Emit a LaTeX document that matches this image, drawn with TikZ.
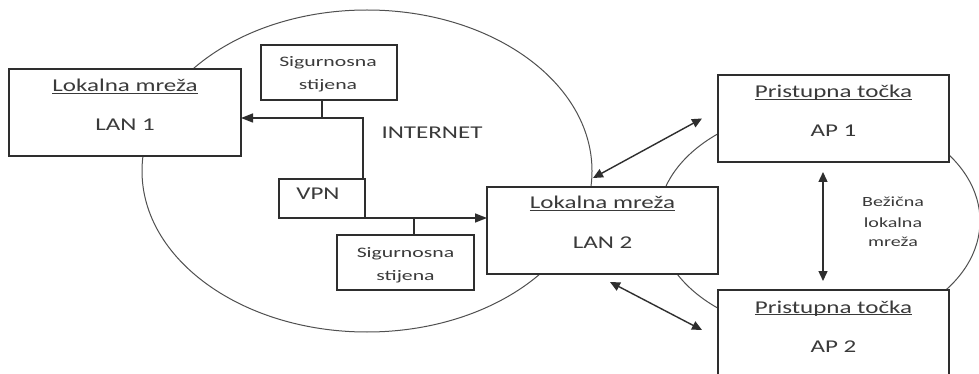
\documentclass[tikz,border=0pt]{standalone}
\usepackage{fontspec}
\setmainfont{Carlito}[FakeStretch=1.39]
\newfontfamily\boxsmallfam{Carlito}[FakeStretch=1.5]
\newfontfamily\wlanfam{Carlito}[FakeStretch=1.43]
\usetikzlibrary{arrows.meta,calc}
\definecolor{ink}{HTML}{2E2E2E}
\definecolor{txt}{HTML}{3A3A3A}
\definecolor{rim}{HTML}{505050}
% underline drawn just under the baseline, crossing descenders
\newcommand\ulined[1]{\setbox0\hbox{#1}\rlap{\rule[-2.2pt]{\wd0}{1.1pt}}\box0}

\begin{document}
\begin{tikzpicture}[
  x=1pt, y=-1pt,
  box/.style={draw=ink, line width=1.3pt, fill=white, inner sep=0pt, outer sep=0pt},
  bigtext/.style={text=txt, font=\fontsize{18}{22}\selectfont, anchor=base, inner sep=0pt},
  smalltext/.style={text=txt, font=\boxsmallfam\fontsize{14.5}{18}\selectfont, anchor=base, inner sep=0pt},
  wlantext/.style={text=txt, font=\wlanfam\fontsize{14}{17}\selectfont, anchor=base, inner sep=0pt},
  link/.style={draw=ink, line width=1.4pt},
  tip/.style={-{Triangle[length=12pt,width=9pt]}},
  twoway/.style={{Triangle[length=10pt,width=9pt]}-{Triangle[length=10pt,width=9pt]}},
  cloud/.style={draw=rim, line width=1pt}
]
\fill[white] (0,0) rectangle (979,374);
\useasboundingbox (0,0) rectangle (979,374);

% network clouds
\draw[cloud] (367,171) ellipse [x radius=225pt, y radius=161pt];
\draw[cloud] (819,221) ellipse [x radius=161pt, y radius=112pt];

% boxes
\node[box, minimum width=232pt, minimum height=87pt] (lan1) at (125,112.5) {};
\node[box, minimum width=136pt, minimum height=55pt] (ss1) at (329,72.5) {};
\node[box, minimum width=86pt, minimum height=39pt] (vpn) at (322,198.5) {};
\node[box, minimum width=137pt, minimum height=55pt] (ss2) at (405.5,262.5) {};
\node[box, minimum width=231pt, minimum height=87pt] (lan2) at (602.5,230.5) {};
\node[box, minimum width=231pt, minimum height=87pt] (ap1) at (833.5,118.5) {};
\node[box, minimum width=231pt, minimum height=87pt] (ap2) at (833.5,333.5) {};

% box texts
\node[bigtext] (lan1t) at ($(lan1.north)+(0,23)$) {\ulined{Lokalna mreža}};
\node[bigtext] (lan1n) at ($(lan1.north)+(0,62)$) {LAN 1};
\node[bigtext] (lan2t) at ($(lan2.north)+(0,21.5)$) {\ulined{Lokalna mreža}};
\node[bigtext] (lan2n) at ($(lan2.north)+(0,61)$) {LAN 2};
\node[bigtext] (ap1t) at ($(ap1.north)+(0,23)$) {\ulined{Pristupna točka}};
\node[bigtext] (ap1n) at ($(ap1.north)+(0,62)$) {AP 1};
\node[bigtext] (ap2t) at ($(ap2.north)+(0,23)$) {\ulined{Pristupna točka}};
\node[bigtext] (ap2n) at ($(ap2.north)+(0,62)$) {AP 2};
\node[bigtext] (vpnt) at ($(vpn.north)+(-4,21)$) {VPN};
\node[smalltext] (ss1a) at ($(ss1.north)+(-1,22)$) {Sigurnosna};
\node[smalltext] (ss1b) at ($(ss1.north)+(-1,45)$) {stijena};
\node[smalltext] (ss2a) at ($(ss2.north)+(0,22)$) {Sigurnosna};
\node[smalltext] (ss2b) at ($(ss2.north)+(0,45)$) {stijena};

% free labels
\node[bigtext] (inet) at (432,139) {INTERNET};
\node[wlantext] (wl1) at (893,207) {Bežična};
\node[wlantext] (wl2) at (893,227) {lokalna};
\node[wlantext] (wl3) at (893,246) {mreža};

% VPN towards LAN 1, with the upper firewall on the way
\coordinate (in1) at ([yshift=-5.5pt]lan1.east);
\draw[link, tip] ([xshift=-2pt]vpn.north east) |- (in1);
\draw[link] ([xshift=-7pt]ss1.south) -- ([xshift=-7pt]ss1.south |- in1);

% VPN towards LAN 2, with the lower firewall on the way
\draw[link, tip] (vpn.south east) -- (vpn.south east -| lan2.west);
\draw[link] ([xshift=8.5pt]ss2.north) -- ([xshift=8.5pt]ss2.north |- vpn.south east);

% wireless links
\draw[link, twoway] ([shift={(-9.5,-9)}]lan2.north) -- ([shift={(-16,0)}]ap1.west);
\draw[link, twoway] ([shift={(7.5,8)}]lan2.south) -- ([shift={(-16,-3.5)}]ap2.west);
\draw[link, twoway] ([shift={(-10.5,10)}]ap1.south) -- ([shift={(-10.5,-9)}]ap2.north);
\end{tikzpicture}
\end{document}
